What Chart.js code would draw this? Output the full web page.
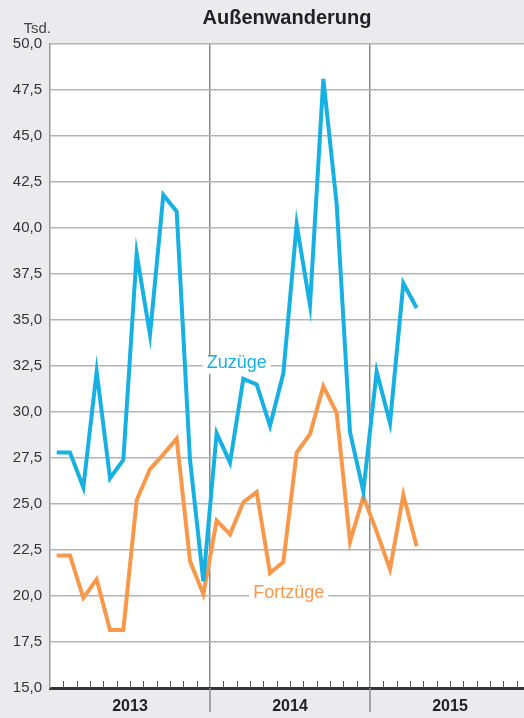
<!DOCTYPE html>
<html>
<head>
<meta charset="utf-8">
<script src="https://cdn.jsdelivr.net/npm/chart.js@4"></script>
<style>
  html, body { margin: 0; padding: 0; background: #ebebed; }
  #wrap { width: 524px; height: 718px; }
</style>
</head>
<body>
<div id="wrap"><canvas id="chart"></canvas></div>
<script>
  const years = ['2013', '2014', '2015']
  // monthly values, Jan 2013 .. Apr 2015 (thousands)
  const zuzuege = [27.8, 27.8, 25.9, 32.2, 26.4, 27.4, 38.6, 34.2, 41.8, 40.9, 27.4, 20.8,
                   28.85, 27.25, 31.8, 31.5, 29.25, 32.1, 40.2, 35.8, 48.1, 41.3, 28.9, 25.7,
                   32.2, 29.4, 37.0, 35.65]
  const fortzuege = [22.2, 22.2, 19.9, 20.9, 18.15, 18.15, 25.2, 26.9, 27.7, 28.55, 21.9, 20.1,
                     24.1, 23.35, 25.1, 25.65, 21.25, 21.85, 27.8, 28.8, 31.4, 29.95, 22.95, 25.4,
                     23.5, 21.45, 25.5, 22.7]

  const BLUE = '#16b1e2'
  const ORANGE = '#f7984a'
  const FONT = '"Liberation Sans", Arial, Helvetica, sans-serif'

  const toPoints = arr => arr.map((v, i) => ({ x: i + 0.5, y: v }))

  // series labels placed in data coordinates
  const seriesLabels = [
    { text: 'Zuzüge', x: 14.0, y: 32.5, color: BLUE },
    { text: 'Fortzüge', x: 17.9, y: 20.0, color: ORANGE }
  ]

  const decorations = {
    id: 'decorations',
    beforeDraw(chart) {
      const { ctx, chartArea: a } = chart
      ctx.save()
      ctx.fillStyle = '#ebebed'
      ctx.fillRect(0, 0, chart.width, chart.height)
      ctx.fillStyle = '#ffffff'
      ctx.fillRect(a.left, a.top, a.right - a.left, a.bottom - a.top)
      ctx.restore()
    },
    afterDatasetsDraw(chart) {
      const { ctx, chartArea: a, scales } = chart
      ctx.save()
      // monthly tick marks inside the plot
      ctx.strokeStyle = '#555'
      ctx.lineWidth = 1
      for (let m = 1; m < 36; m++) {
        if (m % 12 === 0) continue
        const px = Math.round(scales.x.getPixelForValue(m)) + 0.5
        if (px > a.right) break
        ctx.beginPath()
        ctx.moveTo(px, a.bottom)
        ctx.lineTo(px, a.bottom - 7)
        ctx.stroke()
      }
      // year separators continue below the axis
      ctx.strokeStyle = '#8a8a8a'
      ctx.lineWidth = 1.5
      ;[12, 24].forEach(m => {
        const px = scales.x.getPixelForValue(m)
        ctx.beginPath()
        ctx.moveTo(px, a.bottom)
        ctx.lineTo(px, chart.height - 6)
        ctx.stroke()
      })
      // series labels
      ctx.font = '18px ' + FONT
      ctx.textAlign = 'center'
      ctx.textBaseline = 'middle'
      seriesLabels.forEach(l => {
        const px = scales.x.getPixelForValue(l.x)
        const py = scales.y.getPixelForValue(l.y)
        const w = ctx.measureText(l.text).width
        ctx.fillStyle = '#ffffff'
        ctx.fillRect(px - w / 2 - 4, py - 10, w + 8, 18)
        ctx.fillStyle = l.color
        ctx.fillText(l.text, px, py - 3)
      })
      ctx.restore()
    },
    afterDraw(chart) {
      const { ctx, chartArea: a } = chart
      ctx.save()
      ctx.fillStyle = '#222'
      ctx.font = 'bold 20px ' + FONT
      ctx.textAlign = 'center'
      ctx.textBaseline = 'middle'
      ctx.fillText('Außenwanderung', (a.left + a.right) / 2, 18)
      ctx.fillStyle = '#444'
      ctx.font = '15px ' + FONT
      ctx.textAlign = 'right'
      ctx.fillText('Tsd.', a.left + 1, 29)
      ctx.restore()
    }
  }

  new Chart(
    document.getElementById('chart'),
    {
      type: 'line',
      data: {
        datasets: [
          {
            label: 'Zuzüge',
            data: toPoints(zuzuege),
            borderColor: BLUE,
            borderWidth: 4,
            pointRadius: 0,
            tension: 0
          },
          {
            label: 'Fortzüge',
            data: toPoints(fortzuege),
            borderColor: ORANGE,
            borderWidth: 4,
            pointRadius: 0,
            tension: 0
          }
        ]
      },
      options: {
        responsive: true,
        maintainAspectRatio: false,
        animation: false,
        layout: { padding: { top: 44, right: 0, bottom: 0, left: 0 } },
        plugins: {
          legend: { display: false },
          tooltip: { enabled: false }
        },
        scales: {
          x: {
            type: 'linear',
            min: 0,
            max: 35.55,
            afterBuildTicks: scale => {
              scale.ticks = [0, 6, 12, 18, 24, 30].map(v => ({ value: v }))
            },
            afterFit: scale => { scale.height = 30 },
            grid: {
              color: c => (c.tick && c.tick.value > 0 && c.tick.value % 12 === 0) ? '#8a8a8a' : 'rgba(0,0,0,0)',
              lineWidth: 1.5,
              drawTicks: false
            },
            border: { color: '#333', width: 3 },
            ticks: {
              padding: 9,
              color: '#222',
              font: { family: FONT, size: 16, weight: 'bold' },
              callback: v => (v % 12 === 6) ? years[(v - 6) / 12] : ''
            }
          },
          y: {
            min: 15,
            max: 50,
            afterFit: scale => { scale.width = 50 },
            ticks: {
              stepSize: 2.5,
              padding: 8,
              color: '#333',
              font: { family: FONT, size: 15 },
              callback: v => v.toFixed(1).replace('.', ',')
            },
            grid: {
              color: c => c.tick && c.tick.value === 15 ? 'rgba(0,0,0,0)' : '#b4b4b4',
              lineWidth: 1.5,
              drawTicks: false
            },
            border: { color: '#999', width: 1.5 }
          }
        }
      },
      plugins: [decorations]
    }
  );
</script>
</body>
</html>
